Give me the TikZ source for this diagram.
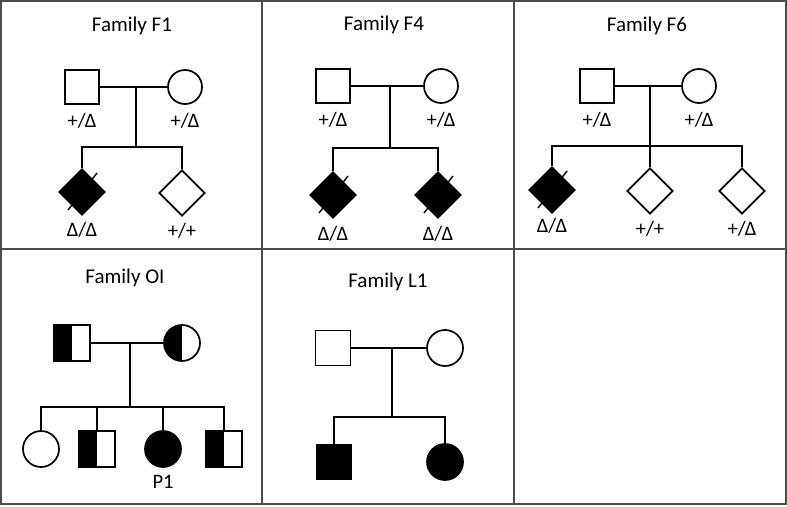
\documentclass[tikz,border=0pt]{standalone}
\usepackage{fontspec}
\setmainfont{Carlito}
\usetikzlibrary{positioning,shapes.geometric}
\tikzset{
  line/.style={line width=1.7pt},
  male/.style={draw, line width=1.7pt, rectangle, minimum size=34pt, inner sep=0pt, fill=white},
  female/.style={draw, line width=1.7pt, circle, minimum size=34pt, inner sep=0pt, fill=white},
  sexless/.style={draw, line width=1.7pt, diamond, minimum width=46pt, minimum height=46pt, inner sep=0pt, fill=white},
  affected/.style={fill=black},
  carrier/.style={path picture={\fill[black] (path picture bounding box.south west) rectangle (path picture bounding box.north);}},
  famtitle/.style={font=\fontsize{21}{25}\selectfont},
  geno/.style={font=\fontsize{20.5}{24}\selectfont, inner sep=0pt},
  frame/.style={draw=gray!60!black, line width=1.8pt}
}
\newcommand{\afftick}[1]{\draw[line width=1.4pt] ([shift={(-14,18)}]#1.center) -- ([shift={(15,-19)}]#1.center);}
\begin{document}
\begin{tikzpicture}[x=1pt,y=-1pt]
    \useasboundingbox (0,0) rectangle (787,506);

    % frame of the panels
    \draw[frame] (1,1) rectangle (786,504);
    \draw[frame] (1,249) -- (786,249);
    \draw[frame] (262,1) -- (262,504);
    \draw[frame] (514,1) -- (514,504);

    % Family F1
    \node[famtitle] (t1) at (132,26) {Family F1};
    \node[male] (f1fa) at (82,87) {};
    \node[female] (f1mo) at (185,87) {};
    \coordinate (f1m) at (136,87);
    \coordinate (f1s) at (136,147);
    \node[sexless, affected] (f1c1) at (82,192) {};
    \node[sexless] (f1c2) at (182,193) {};
    \draw[line] (f1fa) -- (f1mo);
    \draw[line] (f1m) -- (f1s);
    \draw[line] (f1c1.north) |- (f1s) -| (f1c2.north);
    \afftick{f1c1}
    \node[geno, below=8pt of f1fa] (f1fag) {+/Δ};
    \node[geno, below=8pt of f1mo] (f1mog) {+/Δ};
    \node[geno, below=6pt of f1c1] (f1c1g) {Δ/Δ};
    \node[geno, below=6pt of f1c2] (f1c2g) {+/+};

    % Family F4
    \node[famtitle] (t4) at (384,25) {Family F4};
    \node[male] (f4fa) at (333,86) {};
    \node[female] (f4mo) at (441,86) {};
    \coordinate (f4m) at (390,86);
    \coordinate (f4s) at (390,148);
    \node[sexless, affected] (f4c1) at (333,195) {};
    \node[sexless, affected] (f4c2) at (438,195) {};
    \draw[line] (f4fa) -- (f4mo);
    \draw[line] (f4m) -- (f4s);
    \draw[line] (f4c1.north) |- (f4s) -| (f4c2.north);
    \afftick{f4c1}
    \afftick{f4c2}
    \node[geno, below=8pt of f4fa] (f4fag) {+/Δ};
    \node[geno, below=8pt of f4mo] (f4mog) {+/Δ};
    \node[geno, below=7pt of f4c1] (f4c1g) {Δ/Δ};
    \node[geno, below=7pt of f4c2] (f4c2g) {Δ/Δ};

    % Family F6
    \node[famtitle] (t6) at (647,26) {Family F6};
    \node[male] (f6fa) at (597,86) {};
    \node[female] (f6mo) at (699,86) {};
    \coordinate (f6m) at (650,86);
    \coordinate (f6s) at (650,146);
    \node[sexless, affected] (f6c1) at (552,190) {};
    \node[sexless] (f6c2) at (650,191) {};
    \node[sexless] (f6c3) at (742,191) {};
    \draw[line] (f6fa) -- (f6mo);
    \draw[line] (f6m) -- (f6s);
    \draw[line] (f6c1.north) |- (f6s) -| (f6c3.north);
    \draw[line] (f6s) -- (f6c2.north);
    \afftick{f6c1}
    \node[geno, below=8pt of f6fa] (f6fag) {+/Δ};
    \node[geno, below=8pt of f6mo] (f6mog) {+/Δ};
    \node[geno, below=4pt of f6c1] (f6c1g) {Δ/Δ};
    \node[geno, below=6pt of f6c2] (f6c2g) {+/+};
    \node[geno, below=6pt of f6c3] (f6c3g) {+/Δ};

    % Family OI
    \node[famtitle] (toi) at (125,278) {Family OI};
    \node[male, carrier, minimum size=36pt] (oifa) at (72,343) {};
    \node[female, carrier, minimum size=36pt] (oimo) at (182,343) {};
    \coordinate (oim) at (130,343);
    \coordinate (ois) at (130,407);
    \node[female, minimum size=36pt] (oic1) at (41,449) {};
    \node[male, carrier, minimum size=36pt] (oic2) at (97,449) {};
    \node[female, affected, minimum size=36pt] (oic3) at (163,449) {};
    \node[male, carrier, minimum size=36pt] (oic4) at (224,449) {};
    \draw[line] (oifa) -- (oimo);
    \draw[line] (oim) -- (ois);
    \draw[line] (oic1.north) |- (ois) -| (oic4.north);
    \draw[line] (oic2.north |- ois) -- (oic2.north);
    \draw[line] (oic3.north |- ois) -- (oic3.north);
    \node[geno, below=7pt of oic3] (p1) {P1};

    % Family L1
    \node[famtitle] (tl1) at (388,282) {Family L1};
    \node[male, minimum size=35pt] (l1fa) at (333,348) {};
    \node[female, minimum size=36pt] (l1mo) at (445,348) {};
    \coordinate (l1m) at (392,348);
    \coordinate (l1s) at (392,417);
    \node[male, affected, minimum size=35pt] (l1c1) at (334,462) {};
    \node[female, affected, minimum size=36pt] (l1c2) at (445,462) {};
    \draw[line] (l1fa) -- (l1mo);
    \draw[line] (l1m) -- (l1s);
    \draw[line] (l1c1.north) |- (l1s) -| (l1c2.north);
\end{tikzpicture}
\end{document}
